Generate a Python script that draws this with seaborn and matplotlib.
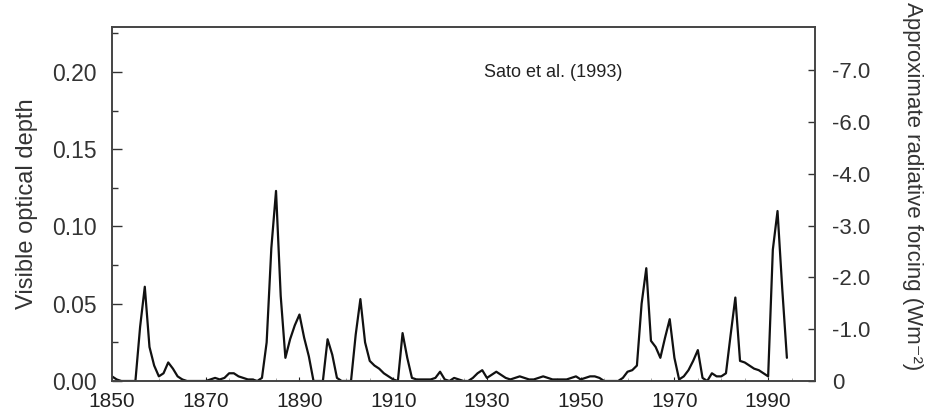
import matplotlib
matplotlib.use("Agg")
import matplotlib.pyplot as plt
import seaborn as sns
import numpy as np
import pandas as pd

# ---- data ----
years = list(range(1850, 1995))
optical_depth = [
    0.003, 0.001, 0.000, 0.000, 0.000, 0.000, 0.035, 0.061, 0.022, 0.010,  # 1850-1859
    0.003, 0.005, 0.012, 0.008, 0.003, 0.001, 0.000, 0.000, 0.000, 0.000,  # 1860-1869
    0.000, 0.001, 0.002, 0.001, 0.002, 0.005, 0.005, 0.003, 0.002, 0.001,  # 1870-1879
    0.001, 0.000, 0.002, 0.025, 0.086, 0.123, 0.055, 0.015, 0.027, 0.036,  # 1880-1889
    0.043, 0.028, 0.016, 0.000, 0.000, 0.000, 0.027, 0.017, 0.002, 0.000,  # 1890-1899
    0.000, 0.000, 0.030, 0.053, 0.025, 0.013, 0.010, 0.008, 0.005, 0.003,  # 1900-1909
    0.001, 0.000, 0.031, 0.015, 0.002, 0.001, 0.001, 0.001, 0.001, 0.002,  # 1910-1919
    0.006, 0.001, 0.000, 0.002, 0.001, 0.000, 0.000, 0.002, 0.005, 0.007,  # 1920-1929
    0.002, 0.004, 0.006, 0.004, 0.002, 0.001, 0.002, 0.003, 0.002, 0.001,  # 1930-1939
    0.001, 0.002, 0.003, 0.002, 0.001, 0.001, 0.001, 0.001, 0.002, 0.003,  # 1940-1949
    0.001, 0.002, 0.003, 0.003, 0.002, 0.000, 0.000, 0.000, 0.000, 0.002,  # 1950-1959
    0.006, 0.007, 0.010, 0.050, 0.073, 0.026, 0.022, 0.015, 0.028, 0.040,  # 1960-1969
    0.015, 0.001, 0.003, 0.007, 0.013, 0.020, 0.002, 0.000, 0.005, 0.003,  # 1970-1979
    0.003, 0.005, 0.030, 0.054, 0.013, 0.012, 0.010, 0.008, 0.007, 0.005,  # 1980-1989
    0.003, 0.085, 0.110, 0.060, 0.015,                                     # 1990-1994
]
x_ticks = [1850, 1870, 1890, 1910, 1930, 1950, 1970, 1990]
y_ticks = [0.00, 0.05, 0.10, 0.15, 0.20]
forcing_labels = ["0", "-1.0", "-2.0", "-3.0", "-4.0", "-6.0", "-7.0"]
annotation = "Sato et al. (1993)"
ylabel_left = "Visible optical depth"
ylabel_right = "Approximate radiative forcing (Wm⁻²)"

df = pd.DataFrame({"year": years, "tau": optical_depth})

sns.set_style("ticks")
plt.rcParams["font.family"] = ["Liberation Sans", "DejaVu Sans"]

fig = plt.figure(figsize=(9.27, 4.11), dpi=100)
ax = fig.add_axes([0.1208, 0.073, 0.7584, 0.861])

sns.lineplot(data=df, x="year", y="tau", ax=ax, color="#111111", linewidth=1.6)

ax.set_xlim(1850, 2000)
ax.set_ylim(0, 0.229)
ax.set_xticks(x_ticks)
ax.set_xticklabels([str(v) for v in x_ticks], fontsize=15)
ax.set_xticks(np.arange(1850, 2001, 5), minor=True)
ax.set_yticks(y_ticks)
ax.set_yticklabels([f"{v:.2f}" for v in y_ticks], fontsize=16.5, color="#333333")
ax.set_yticks(np.arange(0, 0.226, 0.025), minor=True)
ax.tick_params(axis="y", which="major", direction="in", length=7, width=1, pad=11, colors="#333333")
ax.tick_params(axis="y", which="minor", direction="in", length=4, width=1, colors="#333333")
ax.tick_params(axis="x", which="major", direction="in", length=3, width=0.8, pad=8, colors="#222222")
ax.tick_params(axis="x", which="minor", direction="in", length=2, width=0.6, colors="#999999")
ax.set_xlabel("")
ax.set_ylabel(ylabel_left, fontsize=17, color="#333333", labelpad=10)

for s in ax.spines.values():
    s.set_visible(True)
    s.set_linewidth(1.2)
    s.set_color("#444444")

ax2 = ax.twinx()
ax2.set_ylim(ax.get_ylim())
ax2.set_yticks([i * 0.0335 for i in range(len(forcing_labels))])
ax2.set_yticklabels(forcing_labels, fontsize=16, color="#333333")
ax2.tick_params(axis="y", direction="in", length=5, width=1, pad=12, colors="#333333")
for s in ax2.spines.values():
    s.set_linewidth(1.2)
    s.set_color("#444444")

ax.text(0.529, 0.873, annotation, transform=ax.transAxes, fontsize=13,
        ha="left", va="center", color="#222222")

fig.text(912 / 927, 1 - 186 / 411, ylabel_right, rotation=270, fontsize=16,
         ha="center", va="center", color="#333333")

fig.savefig("out.png", dpi=100)
